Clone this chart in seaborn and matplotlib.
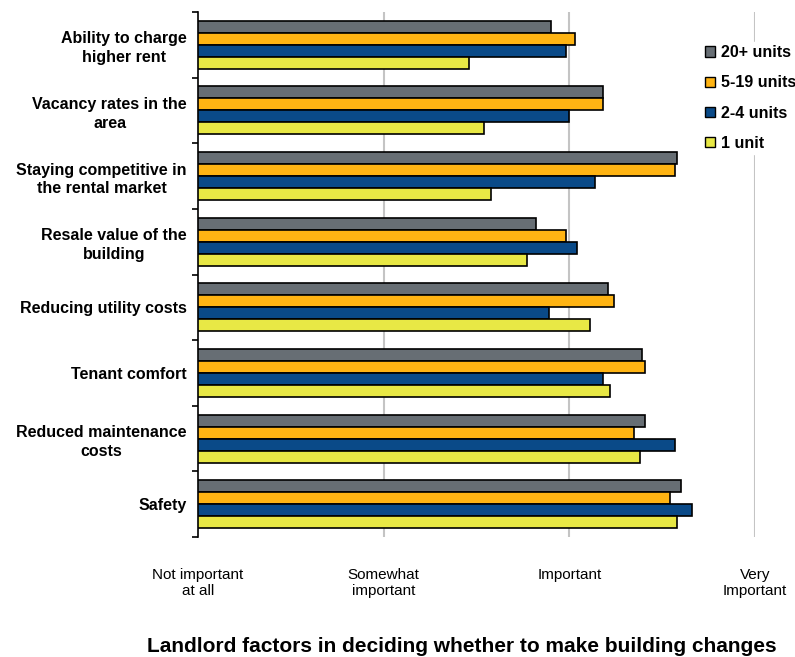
import matplotlib
matplotlib.use("Agg")
import matplotlib.pyplot as plt
from matplotlib.patches import Patch
import seaborn as sns
import pandas as pd

factors = [
    "Ability to charge\nhigher rent",
    "Vacancy rates in the\narea",
    "Staying competitive in\nthe rental market",
    "Resale value of the\nbuilding",
    "Reducing utility costs",
    "Tenant comfort",
    "Reduced maintenance\ncosts",
    "Safety",
]
groups = ["20+ units", "5-19 units", "2-4 units", "1 unit"]

units_20plus = [2.90, 3.18, 3.58, 2.82, 3.21, 3.39, 3.41, 3.60]
units_5_19 = [3.03, 3.18, 3.57, 2.98, 3.24, 3.41, 3.35, 3.54]
units_2_4 = [2.98, 3.00, 3.14, 3.04, 2.89, 3.18, 3.57, 3.66]
units_1 = [2.46, 2.54, 2.58, 2.77, 3.11, 3.22, 3.38, 3.58]

scale_ticks = [1, 2, 3, 4]
scale_labels = ["Not important\nat all", "Somewhat\nimportant", "Important", "Very\nImportant"]

colors = ["#676E74", "#FFB413", "#0A4A88", "#E8E845"]

series = [units_20plus, units_5_19, units_2_4, units_1]
df = pd.DataFrame({
    "factor": [f for _ in groups for f in factors],
    "group": [g for g in groups for _ in factors],
    "score": [v for s in series for v in s],
})

sns.set_theme(style="white")
plt.rcParams["font.family"] = ["Liberation Sans", "DejaVu Sans"]
plt.rcParams["text.color"] = "black"
plt.rcParams["xtick.color"] = "black"
plt.rcParams["ytick.color"] = "black"

fig = plt.figure(figsize=(7.95, 6.57), dpi=100)
ax = fig.add_axes([198 / 795, 1 - 537 / 657, 557 / 795, 525 / 657])

sns.barplot(
    data=df, y="factor", x="score", hue="group",
    order=factors, hue_order=groups, palette=colors, saturation=1,
    orient="h", width=0.73, edgecolor="black", linewidth=1.2,
    errorbar=None, legend=False, ax=ax, zorder=3,
)

ax.set_xlim(1, 4)
ax.set_ylim(len(factors) - 0.5, -0.5)
ax.set_xticks(scale_ticks)
ax.set_xticklabels(scale_labels, fontsize=11, linespacing=1.25)
ax.tick_params(axis="x", length=0, pad=22)
for x in scale_ticks[1:]:
    ax.axvline(x, color="#C4C4C4", lw=1.5, zorder=1)

ax.set_yticks(range(len(factors)))
ax.set_yticklabels(factors, fontsize=11.5, fontweight="bold", linespacing=1.3,
                   multialignment="center")
ax.tick_params(axis="y", which="major", left=False, length=0, pad=8)
ax.set_yticks([i - 0.5 for i in range(len(factors) + 1)], minor=True)
ax.tick_params(axis="y", which="minor", left=True, length=4, width=1.2,
               direction="out", color="black")

for side in ["top", "right", "bottom"]:
    ax.spines[side].set_visible(False)
ax.spines["left"].set_color("black")
ax.spines["left"].set_linewidth(1.2)
ax.spines["left"].set_zorder(4)
ax.set_xlabel("")
ax.set_ylabel("")

handles = [Patch(facecolor=c, edgecolor="black", linewidth=1.0, label=g)
           for c, g in zip(colors, groups)]
leg = fig.legend(
    handles=handles, loc="upper left", bbox_to_anchor=(702 / 795, 1 - 42 / 657),
    frameon=True, framealpha=1, edgecolor="white", facecolor="white",
    prop={"size": 11.5, "weight": "bold"}, handlelength=0.6, handleheight=0.6,
    handletextpad=0.4, labelspacing=0.95, borderpad=0.2, borderaxespad=0,
)

fig.text(462 / 795, 1 - 646 / 657,
         "Landlord factors in deciding whether to make building changes",
         ha="center", va="center", fontsize=15, fontweight="bold")

fig.savefig("out.png", dpi=100)
